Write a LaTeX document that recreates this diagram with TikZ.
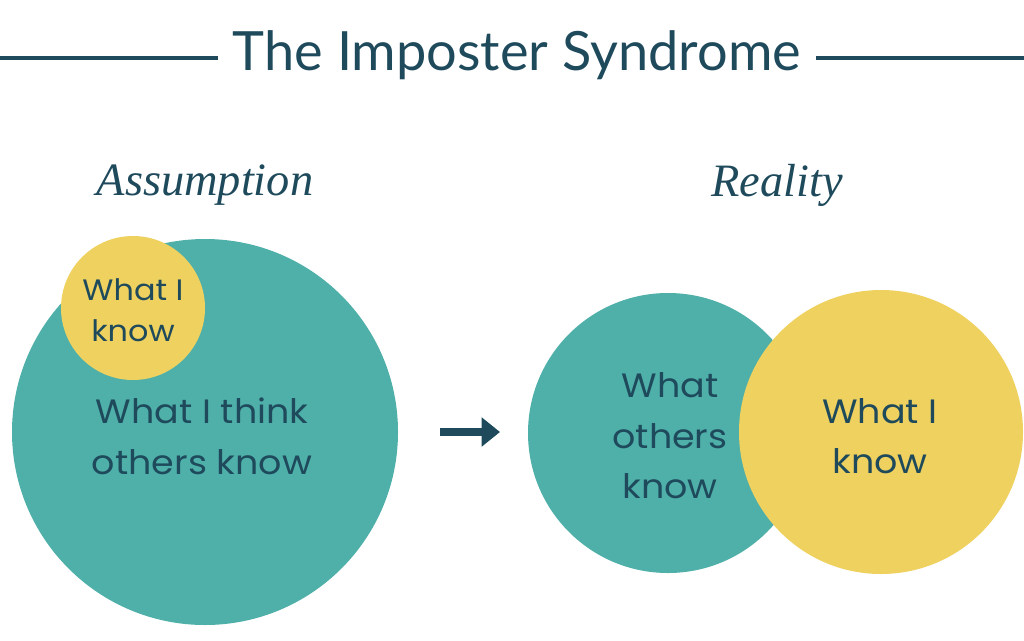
\documentclass[tikz,border=0pt]{standalone}
\usepackage{fontspec}
\usetikzlibrary{arrows.meta}
\setmainfont{Lato}
\newfontfamily\bodyfont[FakeStretch=1.08]{Poppins}
\newfontfamily\scriptf{Liberation Serif}
\definecolor{teal1}{HTML}{4FB0A9}
\definecolor{yell}{HTML}{EFD160}
\definecolor{ink}{HTML}{1E4A5C}
\tikzset{
  circ/.style={circle, draw=none, inner sep=0pt},
  lbl/.style={font=\bodyfont\fontsize{24}{36}\selectfont, text=ink, align=center},
  lblsmall/.style={font=\bodyfont\fontsize{21}{29}\selectfont, text=ink, align=center},
  hand/.style={font=\scriptf\itshape\fontsize{33}{33}\selectfont, text=ink},
  rule/.style={ink, line width=2.8pt},
}
\begin{document}
\begin{tikzpicture}[x=0.025cm,y=-0.025cm]
\useasboundingbox (0,0) rectangle (1024,640);
% title
\node[font=\fontsize{38.5}{42}\selectfont, text=ink, inner xsep=15*0.025cm] (title) at (517,55) {The Imposter Syndrome};
\coordinate (l0) at (0,58);
\coordinate (r1) at (1024,58);
\draw[rule] (l0) -- (title.west |- l0);
\draw[rule] (title.east |- r1) -- (r1);
% headings
\node[hand] (assume) at (205,185) {Assumption};
\node[hand] (real) at (777,185) {Reality};
% left
\node[circ, fill=teal1, minimum size=386*0.025cm] (big) at (205,432) {};
\node[circ, fill=yell, minimum size=144*0.025cm] (small) at (133,308) {};
\node[lblsmall] at (133,310) {What I\\know};
\node[lbl] at (202,436) {What I think\\others know};
% arrow
\coordinate (a0) at (440,432);
\coordinate (a1) at (500,432);
\draw[ink, line width=5.5pt, -{Triangle[length=13pt,width=20pt]}] (a0) -- (a1);
% right
\node[circ, fill=teal1, minimum size=280*0.025cm] (others) at (668,433) {};
\node[circ, fill=yell, minimum size=284*0.025cm] (me) at (881,432) {};
\node[lbl] at (670,436) {What\\others\\know};
\node[lbl] at (880,436) {What I\\know};
\end{tikzpicture}
\end{document}
